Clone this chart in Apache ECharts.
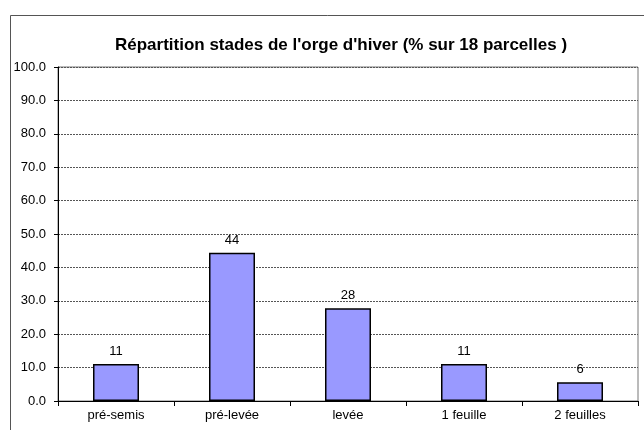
<!DOCTYPE html>
<html>
<head>
<meta charset="utf-8">
<script src="https://cdn.jsdelivr.net/npm/echarts@6/dist/echarts.min.js"></script>
<style>
  html, body { margin: 0; padding: 0; background: #fff; }
  #chart { width: 644px; height: 430px; }
</style>
</head>
<body>
<div id="chart"></div>
<script>
// catégories et pourcentages (18 parcelles)
var stades = ['pré-semis', 'pré-levée', 'levée', '1 feuille', '2 feuilles'];
var pourcent = [11.1, 44.4, 27.8, 11.1, 5.6];
var titre = "Répartition stades de l'orge d'hiver (% sur 18 parcelles )";

var myChart = echarts.init(document.getElementById('chart'), null, { renderer: 'canvas' });

var option = {
  backgroundColor: '#fff',
  animation: false,
  textStyle: { fontFamily: 'Liberation Sans, Arial, sans-serif' },
  title: {
    text: titre,
    left: 336,
    textAlign: 'center',
    top: 32,
    textStyle: { fontSize: 17, fontWeight: 'bold', color: '#000' }
  },
  // cadre extérieur
  graphic: [{
    type: 'rect',
    left: 8, top: 13,
    shape: { width: 700, height: 500 },
    style: { fill: 'none', stroke: '#555', lineWidth: 1 },
    z: 0
  }],
  grid: {
    left: 58, right: 6, top: 67, bottom: 29,
    show: true, borderColor: '#777', borderWidth: 1,
    containLabel: false
  },
  xAxis: {
    type: 'category',
    data: stades,
    axisLine: { lineStyle: { color: '#000', width: 1 } },
    axisTick: { show: true, length: 5, inside: false, lineStyle: { color: '#000' } },
    axisLabel: { color: '#000', fontSize: 13, margin: 8 }
  },
  yAxis: {
    type: 'value',
    min: 0, max: 100, interval: 10,
    axisLine: { show: true, lineStyle: { color: '#000', width: 1 } },
    axisTick: { show: true, length: 4, lineStyle: { color: '#000' } },
    axisLabel: {
      color: '#000', fontSize: 13, margin: 12,
      formatter: function (v) { return v.toFixed(1); }
    },
    splitLine: { show: true, lineStyle: { color: '#555', type: [2, 1], width: 1 } }
  },
  series: [{
    type: 'bar',
    data: pourcent,
    barWidth: 46,
    itemStyle: { color: '#9999ff', borderColor: '#000', borderWidth: 1.5 },
    label: {
      show: true, position: 'top', distance: 6,
      color: '#000', fontSize: 13,
      formatter: function (p) { return Math.round(p.value); }
    }
  }]
};

myChart.setOption(option);
</script>
</body>
</html>
